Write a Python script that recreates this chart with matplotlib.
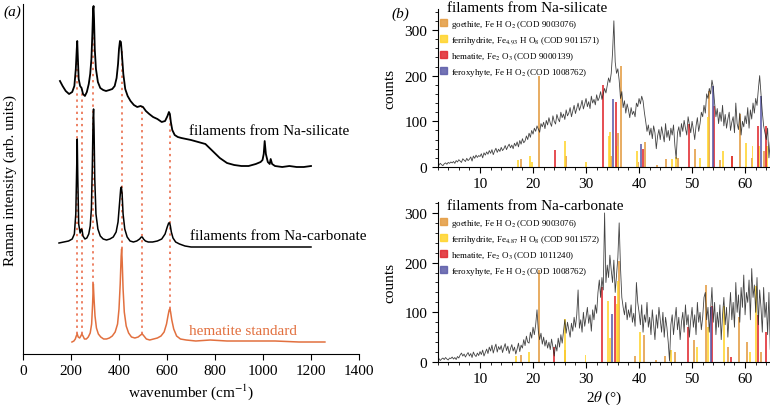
import numpy as np
import matplotlib
matplotlib.use("Agg")
import matplotlib.pyplot as plt
from matplotlib.patches import Patch
from matplotlib.ticker import MultipleLocator

plt.rcParams['font.family'] = ['Liberation Serif', 'DejaVu Serif']
plt.rcParams['mathtext.fontset'] = 'stix'

# ---- (a) Raman spectra ----
hem_wn = [204, 212, 218, 222, 226, 230, 236, 241, 245, 250, 256, 264, 272, 280, 286, 290, 293, 296, 300, 306,
          314, 324, 336, 348, 360, 372, 384, 394, 400, 405, 409, 411, 413, 417, 422, 430, 440, 452, 466, 480,
          490, 497, 504, 514, 528, 544, 560, 575, 588, 598, 604, 609, 612, 615, 620, 628, 640, 656, 680, 720,
          780, 850, 950, 1050, 1150, 1258]
hem_y = [12, 13, 15, 18, 20, 17, 16, 18, 20, 18, 15, 15, 17, 21, 30, 50, 70, 55, 38, 26,
         20, 17, 15, 15, 16, 18, 22, 30, 45, 70, 98, 105, 95, 65, 42, 28, 21, 17, 16, 17,
         19, 20, 18, 15, 14, 15, 16, 18, 22, 30, 38, 44, 45, 42, 34, 25, 18, 15, 14, 13,
         14, 13, 13, 13, 12, 12]

carb_wn = [150, 170, 190, 205, 214, 220, 224, 226, 228, 232, 238, 243, 246, 250, 258, 266, 274, 280, 285, 289,
           292, 294, 296, 299, 304, 312, 322, 334, 348, 362, 376, 388, 396, 402, 407, 410, 413, 417, 424, 434,
           446, 460, 474, 486, 493, 497, 502, 510, 522, 540, 560, 578, 592, 601, 607, 611, 614, 618, 625, 636,
           652, 675, 700, 750, 800, 900, 1000, 1100, 1200]
carb_y = [111, 112, 113, 115, 120, 140, 190, 215, 180, 130, 121, 125, 124, 118, 115, 116, 120, 128, 145, 190,
          235, 245, 225, 175, 140, 125, 118, 115, 114, 115, 117, 122, 132, 150, 165, 167, 160, 140, 125, 117,
          113, 112, 113, 115, 117, 117, 115, 113, 112, 112, 113, 115, 120, 127, 131, 131, 128, 122, 116, 112,
          110, 108, 107, 107, 107, 107, 107, 107, 107]

sil_wn = [154, 165, 178, 192, 205, 214, 220, 224, 226, 228, 232, 238, 244, 250, 258, 266, 274, 280, 285, 289,
          292, 294, 296, 299, 304, 312, 322, 334, 346, 360, 372, 382, 390, 396, 400, 404, 408, 412, 418, 426,
          436, 448, 462, 476, 490, 500, 512, 526, 542, 560, 578, 592, 602, 608, 612, 616, 622, 632, 645, 660,
          680, 700, 730, 760, 790, 820, 850, 880, 910, 940, 970, 990, 998, 1003, 1007, 1012, 1020, 1028, 1032, 1038,
          1050, 1080, 1110, 1140, 1170, 1200]
sil_y = [273, 268, 263, 260, 262, 268, 285, 305, 313, 300, 275, 268, 266, 260, 258, 262, 270, 280, 295, 320,
         345, 348, 335, 305, 285, 272, 266, 264, 263, 264, 265, 268, 276, 290, 305, 313, 312, 300, 280, 265,
         258, 253, 249, 247, 248, 247, 243, 240, 237, 235, 232, 233, 238, 242, 240, 232, 224, 219, 217, 216,
         215, 214, 212, 210, 203, 196, 191, 189, 188, 188, 190, 192, 194, 200, 213, 200, 192, 190, 195, 190,
         188, 187, 188, 187, 187, 188]

band_wn = [226, 245, 293, 411, 497, 612]

# ---- (b) XRD patterns ----
two_theta = np.arange(2, 65.01, 0.25)
sil_counts = [6, 4, 8, 5, 3, 7, 9, 6, 10, 8, 11, 9,
              12, 8, 14, 11, 16, 13, 10, 18, 15, 12, 19, 14,
              17, 22, 13, 24, 19, 26, 21, 25,
              23, 29, 20, 31, 26, 33, 28, 36,
              30, 38, 27, 35, 41, 32, 39, 34,
              43, 36, 40, 47, 38, 45, 50, 42,
              48, 40, 52, 46, 55, 44, 58, 50,
              62, 53, 57, 68, 60, 74, 65, 80,
              72, 85, 78, 90, 83, 76, 95, 88,
              98, 84, 102, 92, 108, 96, 89, 112,
              100, 94, 115, 105, 99, 120, 108, 116,
              104, 125, 112, 118, 130, 110, 122, 135,
              117, 128, 140, 124, 133, 146, 127, 138,
              150, 132, 143, 128, 155, 140, 148, 136,
              158, 145, 152, 165, 148, 160, 172, 162,
              178, 195, 185, 205,
              250, 320, 230, 205,
              215, 190, 150, 165, 130, 145, 118, 138,
              125, 108, 130, 115, 122, 110, 140, 132,
              150, 138, 155, 145, 120, 100, 78, 92,
              70, 85, 62, 90, 75, 40, 68, 82,
              60, 88, 72, 55, 95, 65, 80, 58,
              85, 70, 92, 48, 18, 75, 88, 66,
              95, 78, 102, 85, 70, 110, 92, 75,
              100, 82, 60, 90, 108, 78, 95, 120,
              110, 135, 118, 160, 150, 172, 160, 190,
              175, 140, 110, 128, 95, 120, 100, 135,
              90, 115, 85, 105, 120, 80, 98, 110,
              75, 140, 95, 82, 118, 70, 100, 88,
              112, 95, 130, 85, 125, 105, 140, 118,
              150, 135, 170, 200, 160, 120, 90, 75,
              60, 85, 20, 55, 65]
carb_counts = [4, 7, 3, 6, 8, 5, 9, 6, 4, 8, 7, 10,
               6, 9, 5, 11, 8, 14, 18, 12, 16, 10, 15, 19,
               12, 17, 9, 20, 14, 11, 18, 13,
               21, 15, 24, 12, 19, 26, 17, 30,
               22, 34, 18, 28, 36, 20, 31, 25,
               33, 19, 29, 37, 23, 32, 17, 27,
               35, 22, 30, 16, 26, 38, 21, 34,
               28, 45, 33, 52, 40, 38, 60, 48,
               70, 55, 75, 105, 62, 45, 58, 36,
               50, 32, 44, 28, 40, 25, 46, 30,
               12, 35, 22, 48, 30, 55, 38, 62,
               85, 58, 80, 65, 50, 78, 62, 90,
               70, 95, 145, 68, 85, 60, 100, 72,
               90, 110, 78, 95, 62, 105, 85, 115,
               98, 140, 165, 130, 170, 145, 300, 160,
               195, 170, 215, 185,
               160, 205, 140, 175,
               210, 280, 190, 130, 110, 95, 120, 85,
               105, 90, 115, 80, 98, 72, 160, 120,
               100, 75, 115, 60, 95, 80, 120, 70,
               90, 55, 105, 75, 45, 95, 68, 110,
               85, 60, 100, 50, 90, 70, 40, 2,
               75, 95, 55, 85, 110, 65, 90, 45,
               80, 100, 60, 115, 75, 95, 50, 85,
               110, 70, 95, 55, 120, 80, 100, 65,
               90, 130, 140, 85, 110, 60, 105, 150,
               80, 120, 55, 100, 70, 115, 45, 95,
               130, 75, 110, 50, 95, 140, 85, 120,
               70, 160, 100, 135, 80, 150, 110, 175,
               95, 140, 120, 165, 85, 188, 130, 155,
               100, 170, 75, 145, 110, 60, 150, 90,
               120, 55, 140, 25, 40]

# reference patterns (position, height) for each phase
sil_goe_pos = [17.8, 21.2, 26.3, 34.7, 36.1, 36.6, 39.9, 41.2, 43.3, 45.0, 47.3, 50.6, 53.2, 55.3, 57.6, 59.0, 61.3, 63.5]
sil_goe_h = [18, 200, 25, 25, 75, 222, 12, 55, 5, 17, 20, 40, 167, 15, 25, 116, 20, 35]
sil_fer_pos = [17.2, 19.4, 19.8, 26.0, 30.0, 34.3, 34.6, 35.8, 39.6, 46.2, 46.9, 51.5, 53.0, 55.9, 60.2, 61.4, 62.6, 64.2]
sil_fer_h = [15, 25, 12, 58, 12, 67, 77, 47, 35, 18, 22, 20, 110, 35, 52, 45, 45, 45]
sil_hem_pos = [24.1, 33.2, 35.6, 40.8, 49.5, 54.1, 57.6, 62.4, 64.0]
sil_hem_h = [37, 180, 142, 40, 94, 134, 25, 90, 90]
sil_fox_pos = [35.1, 40.3, 54.0, 63.0]
sil_fox_h = [149, 50, 178, 156]

carb_goe_pos = [17.8, 21.1, 26.1, 36.2, 39.2, 41.0, 43.2, 44.9, 46.8, 50.4, 52.7, 56.7, 58.8, 60.3, 63.0]
carb_goe_h = [15, 186, 25, 204, 12, 55, 5, 12, 20, 45, 155, 30, 90, 40, 20]
carb_fer_pos = [16.8, 19.3, 26.0, 29.9, 34.1, 34.5, 35.8, 36.0, 40.2, 46.0, 50.9, 53.0, 56.0, 61.0, 62.0]
carb_fer_h = [12, 20, 87, 15, 123, 48, 117, 164, 61, 25, 30, 70, 112, 20, 152]
carb_hem_pos = [24.0, 33.0, 35.4, 49.3, 53.8, 57.4, 62.5, 64.0]
carb_hem_h = [30, 150, 133, 70, 113, 10, 95, 60]
carb_fox_pos = [34.9, 53.6]
carb_fox_h = [97, 110]

c_goe = '#E39A3E'
c_fer = '#FFD42A'
c_hem = '#E0262C'
c_fox = '#5A5AA8'
c_hem_raman = '#E2703F'

fig = plt.figure(figsize=(7.7, 4.06), dpi=100)

# (a)
ax = fig.add_axes([23 / 770, 51 / 406, 336 / 770, 350 / 406])
ax.plot(sil_wn, sil_y, color='black', lw=1.3)
ax.plot(carb_wn, carb_y, color='black', lw=1.1)
ax.plot(hem_wn, hem_y, color=c_hem_raman, lw=1.1)
for w in band_wn:
    lo = np.interp(w, hem_wn, hem_y)
    hi = np.interp(w, sil_wn, sil_y)
    ax.plot([w, w], [lo, hi], color='#E8603C', lw=1.1, ls=(0, (1.5, 2.5)), zorder=0)
ax.text(690, 223, 'filaments from Na-silicate', fontsize=11, va='center')
ax.text(696, 118, 'filaments from Na-carbonate', fontsize=11, va='center')
ax.text(690, 23, 'hematite standard', fontsize=11, va='center', color=c_hem_raman)
ax.set_xlim(0, 1400)
ax.set_ylim(0, 350)
ax.set_xticks(np.arange(0, 1401, 200))
ax.set_yticks([])
ax.tick_params(axis='x', labelsize=11, length=4)
for s in ['top', 'right']:
    ax.spines[s].set_visible(False)
ax.set_xlabel('wavenumber (cm$^{-1}$)', fontsize=11, labelpad=3)
ax.set_ylabel('Raman intensity (arb. units)', fontsize=11, labelpad=4)
fig.text(12 / 770, 1 - 12 / 406, '(a)', fontsize=11, style='italic', ha='center', va='center')
fig.text(400 / 770, 1 - 14 / 406, '(b)', fontsize=11, style='italic', ha='center', va='center')


def xrd_panel(rect, counts, phases, labels, title, title_y, ylim, leg_y):
    a = fig.add_axes(rect)
    for (pos, h), col in zip(phases, [c_goe, c_fer, c_hem, c_fox]):
        a.bar(pos, h, width=0.36, color=col, alpha=0.8, lw=0)
    a.plot(two_theta, counts, color='#222222', lw=0.6, alpha=0.85)
    a.set_xlim(2, 64.7)
    a.set_ylim(*ylim)
    a.xaxis.set_major_locator(MultipleLocator(10))
    a.xaxis.set_minor_locator(MultipleLocator(2))
    a.yaxis.set_major_locator(MultipleLocator(100))
    a.yaxis.set_minor_locator(MultipleLocator(20))
    a.tick_params(which='major', labelsize=11, length=4)
    a.tick_params(which='minor', length=2)
    for s in ['top', 'right']:
        a.spines[s].set_visible(False)
    a.set_ylabel('counts', fontsize=11, labelpad=6)
    handles = [Patch(color=c, alpha=0.85) for c in [c_goe, c_fer, c_hem, c_fox]]
    a.legend(handles, labels, loc='upper left', bbox_to_anchor=(440 / 770, 1 - leg_y / 406),
             bbox_transform=fig.transFigure, frameon=False, fontsize=6.5, handlelength=0.8,
             handleheight=0.8, handletextpad=0.4, labelspacing=0.45, borderaxespad=0, borderpad=0)
    fig.text(447 / 770, 1 - title_y / 406, title, fontsize=11, va='center')
    return a


top = xrd_panel([437.6 / 770, 238 / 406, 332.4 / 770, 157.6 / 406], sil_counts,
                [(sil_goe_pos, sil_goe_h), (sil_fer_pos, sil_fer_h), (sil_hem_pos, sil_hem_h), (sil_fox_pos, sil_fox_h)],
                ['goethite, Fe H O$_2$ (COD 9003076)',
                 'ferrihydrite, Fe$_{4.93}$ H O$_8$ (COD 9011571)',
                 'hematite, Fe$_2$ O$_3$ (COD 9000139)',
                 'feroxyhyte, Fe H O$_2$ (COD 1008762)'],
                'filaments from Na-silicate', 8, (0, 345), 19)

bot = xrd_panel([437.6 / 770, 43 / 406, 332.4 / 770, 160 / 406], carb_counts,
                [(carb_goe_pos, carb_goe_h), (carb_fer_pos, carb_fer_h), (carb_hem_pos, carb_hem_h), (carb_fox_pos, carb_fox_h)],
                ['goethite, Fe H O$_2$ (COD 9003076)',
                 'ferrihydrite, Fe$_{4.87}$ H O$_8$ (COD 9011572)',
                 'hematite, Fe$_2$ O$_3$ (COD 1011240)',
                 'feroxyhyte, Fe H O$_2$ (COD 1008762)'],
                'filaments from Na-carbonate', 206, (0, 322), 218)
bot.set_xlabel(r'2$\theta$ (°)', fontsize=11, labelpad=2)

fig.savefig('out.png', dpi=100)
